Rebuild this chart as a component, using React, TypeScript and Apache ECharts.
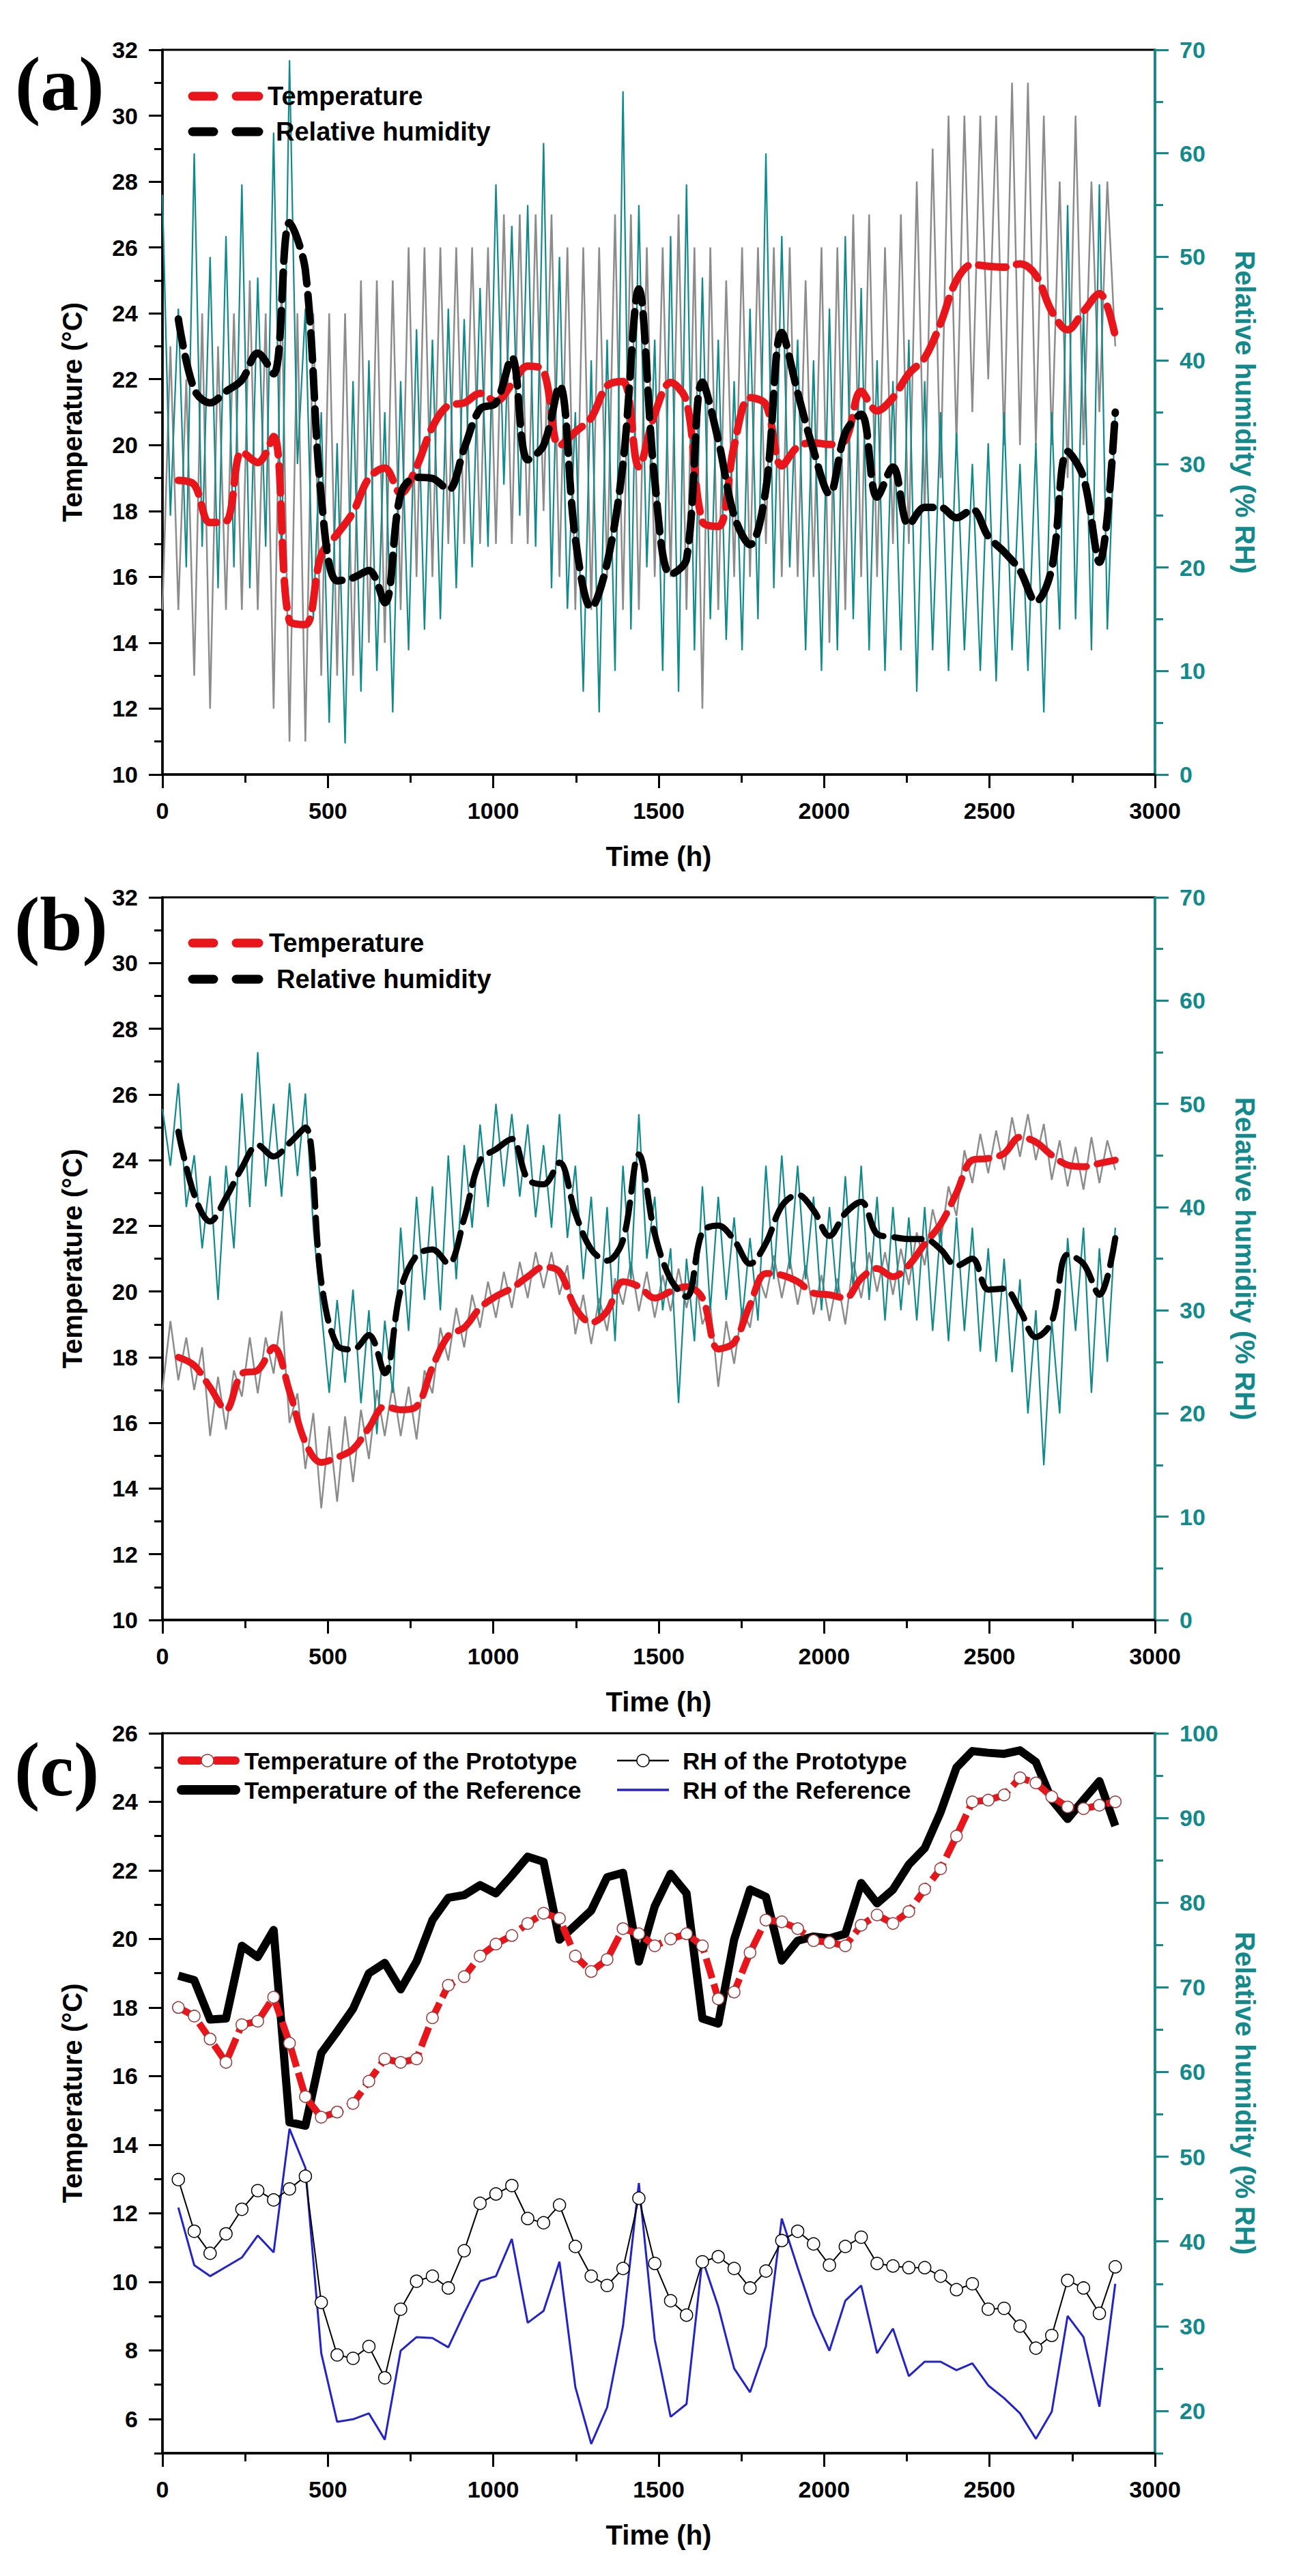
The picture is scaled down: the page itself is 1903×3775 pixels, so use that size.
import React, { useEffect, useRef } from "react";
import * as echarts from "echarts";

const FONT = "'Liberation Sans', Arial, sans-serif";
const SERIF = "'Liberation Serif', 'Times New Roman', serif";
const TEAL = "#12898a";
const GRAY = "#8c8c8c";
const RED = "#e8161b";
const BLUE = "#2323c8";

// sampling grids (hours)
const T48 = Array.from({ length: 60 }, (_, i) => 48 * (i + 1));
const T24 = Array.from({ length: 121 }, (_, i) => 24 * i);

// panel (c) — 48 h averages
const REF_TEMP = [18.93, 18.8, 17.65, 17.68, 19.8, 19.47, 20.26, 14.65, 14.55, 16.67,
  17.3, 17.96, 19.0, 19.3, 18.53, 19.34, 20.55, 21.2, 21.28, 21.57,
  21.33, 21.85, 22.4, 22.25, 19.98, 20.4, 20.83, 21.8, 21.93, 19.34,
  20.95, 21.9, 21.33, 17.68, 17.53, 19.98, 21.44, 21.23, 19.37, 19.95,
  20.07, 20.02, 20.15, 21.63, 21.04, 21.44, 22.17, 22.65, 23.7, 25.0,
  25.48, 25.43, 25.4, 25.5, 25.16, 24.06, 23.5, 24.06, 24.6, 23.3];
const PROTO_TEMP = [18.0, 17.75, 17.08, 16.4, 17.5, 17.6, 18.3, 16.96, 15.4, 14.8,
  14.95, 15.2, 15.85, 16.5, 16.4, 16.5, 17.7, 18.65, 18.9, 19.5,
  19.85, 20.1, 20.45, 20.75, 20.6, 19.5, 19.05, 19.4, 20.3, 20.15,
  19.8, 20.0, 20.15, 19.8, 18.25, 18.45, 19.6, 20.55, 20.5, 20.3,
  19.95, 19.9, 19.8, 20.4, 20.7, 20.45, 20.8, 21.45, 22.05, 23.0,
  24.0, 24.05, 24.2, 24.7, 24.55, 24.15, 23.85, 23.8, 23.9, 24.0];
const PROTO_RH = [47.3, 41.2, 38.6, 40.9, 43.8, 46.0, 44.9, 46.2, 47.7, 32.8,
  26.6, 26.2, 27.6, 23.9, 32.0, 35.3, 35.9, 34.5, 38.9, 44.5,
  45.6, 46.6, 42.7, 42.2, 44.3, 39.4, 35.9, 34.8, 36.8, 45.1,
  37.4, 33.0, 31.3, 37.6, 38.2, 36.8, 34.5, 36.5, 40.1, 41.2,
  39.7, 37.2, 39.4, 40.5, 37.4, 37.1, 36.9, 36.9, 35.9, 34.3,
  35.0, 32.0, 32.1, 30.0, 27.4, 28.9, 35.4, 34.5, 31.5, 37.0];
const REF_RH = [44.0, 37.2, 35.9, 37.0, 38.1, 40.7, 38.7, 53.3, 48.7, 26.8,
  18.7, 19.0, 19.7, 16.6, 27.1, 28.7, 28.6, 27.5, 31.5, 35.3,
  35.9, 40.3, 30.4, 31.8, 37.6, 22.8, 16.1, 20.4, 30.0, 46.9,
  28.4, 19.3, 20.8, 37.9, 32.3, 25.0, 22.2, 27.6, 42.7, 36.9,
  31.3, 27.1, 33.0, 34.8, 26.8, 29.7, 24.1, 25.8, 25.8, 24.8,
  25.6, 23.0, 21.5, 19.7, 16.7, 19.9, 31.2, 28.7, 20.5, 35.0];

// panel (a) — raw readings of the reference room
const RAW_TEMP_A = [15, 23, 15, 22, 13, 24, 12, 23, 15, 24, 15, 25, 15, 24, 12, 25, 11, 24, 11, 24,
  13, 24, 13, 24, 13, 25, 14, 25, 14, 25, 15, 26, 16, 26, 16, 26, 17, 26, 17, 26,
  17, 26, 17, 27, 17, 27, 17, 27, 18, 27, 16, 26, 15, 26, 15, 26, 16, 27, 15, 27,
  15, 26, 16, 26, 16, 27, 15, 26, 12, 26, 15, 25, 16, 26, 16, 26, 17, 26, 16, 26,
  16, 25, 16, 26, 14, 26, 15, 27, 16, 27, 16, 26, 17, 27, 17, 28, 18, 29, 19, 30,
  20, 30, 21, 30, 22, 30, 20, 31, 20, 31, 20, 30, 20, 28, 19, 30, 20, 28, 21, 28,
  23];
const RAW_RH_A = [56, 25, 45, 20, 60, 22, 50, 18, 52, 20, 57, 18, 48, 22, 62, 20, 69, 30, 45, 15,
  35, 5, 32, 3, 38, 8, 40, 10, 35, 6, 38, 12, 43, 14, 42, 15, 45, 18, 44, 20,
  47, 22, 57, 28, 53, 25, 55, 22, 61, 18, 50, 16, 35, 8, 40, 6, 42, 10, 66, 14,
  55, 20, 42, 10, 52, 8, 57, 12, 48, 15, 42, 13, 38, 12, 45, 15, 60, 18, 52, 20,
  42, 12, 40, 10, 45, 12, 52, 15, 47, 12, 40, 10, 38, 12, 42, 8, 38, 12, 35, 10,
  33, 12, 30, 10, 32, 9, 35, 12, 30, 10, 32, 6, 35, 14, 55, 15, 45, 12, 57, 14,
  35];

// panel (b) — raw readings of the prototype
const RAW_TEMP_B = [17.0, 19.1, 17.3, 18.6, 17.0, 18.3, 15.6, 17.4, 15.8, 17.6,
  16.8, 18.6, 16.9, 18.6, 17.5, 19.4, 16.0, 16.9, 14.6, 16.3,
  13.4, 15.9, 13.6, 16.2, 14.2, 16.4, 14.9, 17.0, 15.6, 17.2,
  15.6, 17.1, 15.5, 17.6, 16.9, 18.9, 17.9, 19.5, 18.3, 19.9,
  18.9, 20.3, 19.2, 20.6, 19.5, 20.9, 19.8, 21.2, 20.1, 21.2,
  19.9, 20.8, 18.7, 19.9, 18.4, 19.8, 18.8, 20.4, 19.6, 20.9,
  19.4, 20.6, 19.2, 20.5, 19.4, 20.7, 19.5, 20.6, 19.0, 19.6,
  17.1, 19.1, 17.8, 19.5, 18.9, 20.5, 19.8, 21.1, 19.8, 21.0,
  19.6, 20.8, 19.3, 20.5, 19.1, 20.4, 19.0, 20.9, 19.8, 21.2,
  20.0, 21.2, 19.9, 21.3, 20.2, 21.8, 20.8, 22.5, 21.5, 23.2,
  22.3, 24.3, 23.3, 24.8, 23.6, 24.9, 23.7, 25.3, 24.1, 25.4,
  24.0, 25.1, 23.4, 24.6, 23.2, 24.4, 23.1, 24.7, 23.3, 24.6,
  23.7];
const RAW_RH_B = [49.5, 44, 52, 40, 45, 36, 43, 31, 44, 36,
  51, 40, 55, 42, 50, 41, 52, 43, 51, 38,
  30, 22, 31, 23, 32, 21, 30, 18, 29, 22,
  38, 28, 41, 31, 42, 30, 45, 33, 46, 38,
  48, 40, 50, 42, 49, 41, 48, 39, 46, 38,
  49, 37, 44, 33, 41, 29, 40, 27, 44, 33,
  49, 35, 41, 30, 36, 21, 35, 27, 42, 30,
  41, 31, 39, 29, 37, 29, 44, 33, 45, 34,
  44, 33, 41, 30, 40, 31, 43, 32, 44, 31,
  41, 29, 40, 30, 39, 29, 40, 28, 38, 27,
  39, 28, 38, 26, 36, 25, 35, 24, 33, 20,
  30, 15, 29, 20, 37, 28, 38, 22, 36, 25,
  38];

const TEMP_LABELS_C = [6, 8, 10, 12, 14, 16, 18, 20, 22, 24, 26];
const RH_LABELS_C = [20, 30, 40, 50, 60, 70, 80, 90, 100];
const LEGEND_AB = ["Temperature", "Relative humidity"];
const LEGEND_C = ["Temperature of the Prototype", "Temperature of the Reference", "RH of the Prototype", "RH of the Reference"];

const pairs = (t: number[], v: number[]) => v.map((y, i) => [t[i], y]);

const GRIDS = [
  { left: 238, top: 73, width: 1454, height: 1062 },
  { left: 238, top: 1315, width: 1454, height: 1059 },
  { left: 238, top: 2540, width: 1454, height: 1055 },
];

const labelStyle = (color: string) => ({
  fontSize: 34, fontWeight: "bold", fontFamily: FONT, color,
});
const nameStyle = (color: string) => ({
  fontSize: 40, fontWeight: "bold", fontFamily: FONT, color,
});

function xAxis(g: number) {
  return {
    type: "value", gridIndex: g, min: 0, max: 3000, interval: 500,
    axisLine: { show: true, onZero: false, lineStyle: { color: "#000", width: 3.5 } },
    axisTick: { show: true, length: 20, lineStyle: { color: "#000", width: 3 } },
    minorTick: { show: true, splitNumber: 2, length: 12, lineStyle: { color: "#000", width: 3 } },
    splitLine: { show: false }, minorSplitLine: { show: false },
    axisLabel: { ...labelStyle("#000"), margin: 36, formatter: (v: number) => String(v) },
    name: "Time (h)", nameLocation: "middle", nameGap: 100, nameTextStyle: nameStyle("#000"),
  };
}
function leftAxis(g: number) {
  return {
    type: "value", gridIndex: g, position: "left", min: 10, max: 32, interval: 2,
    axisLine: { show: true, onZero: false, lineStyle: { color: "#000", width: 3.5 } },
    axisTick: { show: true, length: 20, lineStyle: { color: "#000", width: 3 } },
    minorTick: { show: true, splitNumber: 2, length: 12, lineStyle: { color: "#000", width: 3 } },
    splitLine: { show: false }, minorSplitLine: { show: false },
    axisLabel: { ...labelStyle("#000"), margin: 36 },
    name: "Temperature (°C)", nameLocation: "middle", nameRotate: 90, nameGap: 112,
    nameTextStyle: nameStyle("#000"),
  };
}
function rightAxis(g: number) {
  return {
    type: "value", gridIndex: g, position: "right", min: 0, max: 70, interval: 10,
    axisLine: { show: true, onZero: false, lineStyle: { color: TEAL, width: 3.5 } },
    axisTick: { show: true, length: 20, lineStyle: { color: TEAL, width: 3 } },
    minorTick: { show: true, splitNumber: 2, length: 12, lineStyle: { color: TEAL, width: 3 } },
    splitLine: { show: false }, minorSplitLine: { show: false },
    axisLabel: { ...labelStyle(TEAL), margin: 36 },
    name: "Relative humidity (% RH)", nameLocation: "middle", nameRotate: -90, nameGap: 112,
    nameTextStyle: nameStyle(TEAL),
  };
}

const dashed = (color: string, width: number) => ({
  color, width, type: [40, 16], cap: "round", join: "round",
});

// ---- hand-drawn legends (graphic) ----
const legText = (text: string, x: number, y: number, size: number) => ({
  type: "text", x, y, z: 100,
  style: { text, fontSize: size, fontWeight: "bold", fontFamily: FONT, fill: "#000", verticalAlign: "middle", align: "left" },
});
const legLine = (x1: number, x2: number, y: number, stroke: string, w: number, cap = "round") => ({
  type: "line", z: 100, shape: { x1, y1: y, x2, y2: y }, style: { stroke, lineWidth: w, lineCap: cap },
});
const legCircle = (cx: number, cy: number, r: number, stroke: string) => ({
  type: "circle", z: 101, shape: { cx, cy, r }, style: { fill: "#fff", stroke, lineWidth: 1.5 },
});
function legendAB(y1: number, y2: number, xText1: number, xText2: number) {
  return [
    legLine(282, 313, y1, RED, 13), legLine(346, 379, y1, RED, 13),
    legText(LEGEND_AB[0], xText1, y1, 38),
    legLine(282, 313, y2, "#000", 13), legLine(346, 379, y2, "#000", 13),
    legText(LEGEND_AB[1], xText2, y2, 38),
  ];
}
const legendCItems = [
  legLine(266, 292, 2580, RED, 12), legLine(316, 345, 2580, RED, 12), legCircle(304, 2580, 9, "#9a3a3a"),
  legText(LEGEND_C[0], 358, 2580, 35),
  legLine(266, 345, 2623, "#000", 14),
  legText(LEGEND_C[1], 358, 2623, 35),
  legLine(904, 980, 2580, "#000", 2.5, "butt"), legCircle(942, 2580, 9, "#000"),
  legText(LEGEND_C[2], 1000, 2580, 35),
  legLine(904, 980, 2623, BLUE, 3.5, "butt"),
  legText(LEGEND_C[3], 1000, 2623, 35),
];

export default function App() {
  const ref = useRef<HTMLDivElement>(null);
  useEffect(() => {
    document.body.style.margin = "0";
    if (!ref.current) return;
    const chart = echarts.init(ref.current, undefined, { renderer: "svg" });
    const option: any = {
      animation: false,
      backgroundColor: "#fff",
      grid: GRIDS.map((g) => ({ ...g, show: true, borderColor: "#000", borderWidth: 3, backgroundColor: "transparent" })),
      xAxis: [xAxis(0), xAxis(1), xAxis(2)],
      yAxis: [
        leftAxis(0), rightAxis(0), leftAxis(1), rightAxis(1),
        {
          ...leftAxis(2), min: 5, max: 26, interval: 1, minorTick: { show: false },
          axisTick: { show: true, length: 20, customValues: TEMP_LABELS_C, lineStyle: { color: "#000", width: 3 } },
          axisLabel: { ...labelStyle("#000"), margin: 36, customValues: TEMP_LABELS_C },
        },
        {
          type: "value", gridIndex: 2, position: "left", min: 5, max: 26, interval: 1,
          axisLine: { show: false }, axisLabel: { show: false }, splitLine: { show: false },
          axisTick: { show: true, length: 12, lineStyle: { color: "#000", width: 3 } },
        },
        {
          ...rightAxis(2), min: 15, max: 100, interval: 5, minorTick: { show: false },
          axisTick: { show: true, length: 20, customValues: RH_LABELS_C, lineStyle: { color: TEAL, width: 3 } },
          axisLabel: { ...labelStyle(TEAL), margin: 36, customValues: RH_LABELS_C },
        },
        {
          type: "value", gridIndex: 2, position: "right", min: 15, max: 100, interval: 5,
          axisLine: { show: false }, axisLabel: { show: false }, splitLine: { show: false },
          axisTick: { show: true, length: 12, lineStyle: { color: TEAL, width: 3 } },
        },
      ],
      graphic: [
        { type: "text", x: 22, y: 123, style: { text: "(a)", fontSize: 112, fontWeight: "bold", fontFamily: SERIF, fill: "#000", verticalAlign: "middle" } },
        { type: "text", x: 21, y: 1354, style: { text: "(b)", fontSize: 112, fontWeight: "bold", fontFamily: SERIF, fill: "#000", verticalAlign: "middle" } },
        { type: "text", x: 21, y: 2593, style: { text: "(c)", fontSize: 112, fontWeight: "bold", fontFamily: SERIF, fill: "#000", verticalAlign: "middle" } },
        ...legendAB(141, 193, 392, 404),
        ...legendAB(1382, 1435, 394, 405),
        ...legendCItems,
      ],
      series: [
        // (a)
        { type: "line", name: "Reference temperature (raw)", xAxisIndex: 0, yAxisIndex: 0, data: pairs(T24, RAW_TEMP_A),
          symbol: "none", silent: true, lineStyle: { color: GRAY, width: 2.5 }, itemStyle: { color: GRAY }, z: 1 },
        { type: "line", name: "Reference RH (raw)", xAxisIndex: 0, yAxisIndex: 1, data: pairs(T24, RAW_RH_A),
          symbol: "none", silent: true, lineStyle: { color: TEAL, width: 2.2 }, itemStyle: { color: TEAL }, z: 2 },
        { type: "line", name: "Temperature", xAxisIndex: 0, yAxisIndex: 0, data: pairs(T48, REF_TEMP),
          smooth: 0.35, symbol: "none", lineStyle: dashed(RED, 11), itemStyle: { color: RED }, z: 5 },
        { type: "line", name: "Relative humidity", xAxisIndex: 0, yAxisIndex: 1, data: pairs(T48, REF_RH),
          smooth: 0.35, symbol: "none", lineStyle: dashed("#000", 11), itemStyle: { color: "#000" }, z: 6 },
        // (b)
        { type: "line", name: "Prototype temperature (raw)", xAxisIndex: 1, yAxisIndex: 2, data: pairs(T24, RAW_TEMP_B),
          symbol: "none", silent: true, lineStyle: { color: GRAY, width: 2.5 }, itemStyle: { color: GRAY }, z: 1 },
        { type: "line", name: "Prototype RH (raw)", xAxisIndex: 1, yAxisIndex: 3, data: pairs(T24, RAW_RH_B),
          symbol: "none", silent: true, lineStyle: { color: TEAL, width: 2.2 }, itemStyle: { color: TEAL }, z: 2 },
        { type: "line", name: "Temperature (b)", xAxisIndex: 1, yAxisIndex: 2, data: pairs(T48, PROTO_TEMP),
          smooth: 0.35, symbol: "none", lineStyle: dashed(RED, 10), itemStyle: { color: RED }, z: 5 },
        { type: "line", name: "Relative humidity (b)", xAxisIndex: 1, yAxisIndex: 3, data: pairs(T48, PROTO_RH),
          smooth: 0.35, symbol: "none", lineStyle: dashed("#000", 9), itemStyle: { color: "#000" }, z: 6 },
        // (c)
        { type: "line", name: LEGEND_C[1], xAxisIndex: 2, yAxisIndex: 4, data: pairs(T48, REF_TEMP),
          symbol: "none", lineStyle: { color: "#000", width: 12, join: "round" }, itemStyle: { color: "#000" }, z: 3 },
        { type: "line", name: LEGEND_C[3], xAxisIndex: 2, yAxisIndex: 6, data: pairs(T48, REF_RH),
          symbol: "none", lineStyle: { color: BLUE, width: 3 }, itemStyle: { color: BLUE }, z: 3 },
        { type: "line", name: LEGEND_C[0], xAxisIndex: 2, yAxisIndex: 4, data: pairs(T48, PROTO_TEMP),
          symbol: "circle", symbolSize: 17, showSymbol: true,
          lineStyle: { color: RED, width: 10, type: [30, 9] },
          itemStyle: { color: "#fff", borderColor: "#9a3a3a", borderWidth: 1.5 }, z: 4 },
        { type: "line", name: LEGEND_C[2], xAxisIndex: 2, yAxisIndex: 6, data: pairs(T48, PROTO_RH),
          symbol: "circle", symbolSize: 18, showSymbol: true,
          lineStyle: { color: "#000", width: 2 },
          itemStyle: { color: "#fff", borderColor: "#000", borderWidth: 1.5 }, z: 4 },
      ],
    };
    chart.setOption(option);
    return () => chart.dispose();
  }, []);
  return <div ref={ref} style={{ width: 1903, height: 3775 }} />;
}
